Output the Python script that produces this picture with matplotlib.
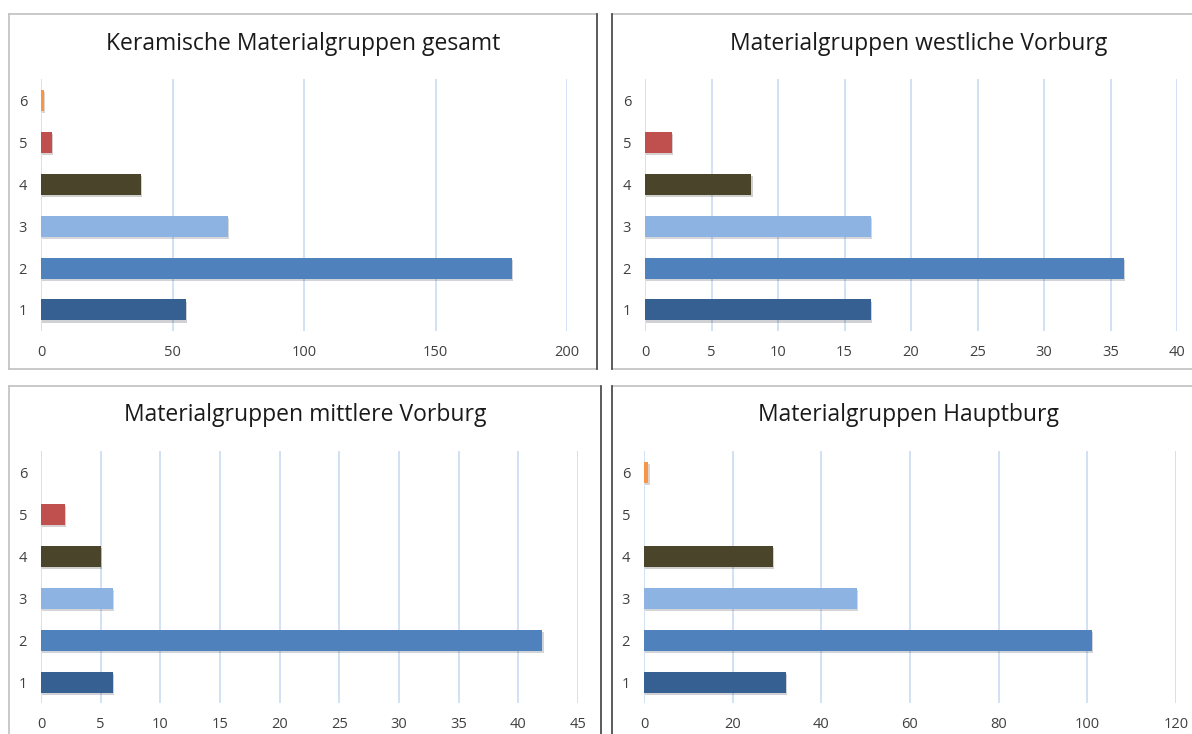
import matplotlib
matplotlib.use('Agg')
import matplotlib.pyplot as plt
import matplotlib.patheffects as pe
from matplotlib.lines import Line2D

categories = ['1', '2', '3', '4', '5', '6']

titles = ['Keramische Materialgruppen gesamt',
          'Materialgruppen westliche Vorburg',
          'Materialgruppen mittlere Vorburg',
          'Materialgruppen Hauptburg']

gesamt = [55, 179, 71, 38, 4, 1]
westliche = [17, 36, 17, 8, 2, 0]
mittlere = [6, 42, 6, 5, 2, 0]
hauptburg = [32, 101, 48, 29, 0, 1]

xticks_gesamt = [0, 50, 100, 150, 200]
xticks_west = [0, 5, 10, 15, 20, 25, 30, 35, 40]
xticks_mitte = [0, 5, 10, 15, 20, 25, 30, 35, 40, 45]
xticks_haupt = [0, 20, 40, 60, 80, 100, 120]

bar_colors = ['#376092', '#4F81BD', '#8DB3E2', '#4A452A', '#C0504D', '#F79646']

W, H = 1192, 734
fig = plt.figure(figsize=(W / 100, H / 100), dpi=100)
plt.rcParams['font.family'] = ['Open Sans', 'DejaVu Sans']


def px_axes(x0, x1, ytop, ybot):
    return fig.add_axes([x0 / W, 1 - ybot / H, (x1 - x0) / W, (ybot - ytop) / H])


def draw_panel(ax, values, xticks, title, title_xy):
    ypos = range(1, len(categories) + 1)
    bars = ax.barh(ypos, values, height=0.5, color=bar_colors, zorder=3)
    for b in bars:
        b.set_path_effects([pe.SimplePatchShadow(offset=(1, -1.5), alpha=0.2), pe.Normal()])
    ax.set_xlim(xticks[0], xticks[-1])
    ax.set_ylim(0.5, 6.5)
    ax.set_xticks(xticks)
    ax.set_yticks(list(ypos))
    ax.set_yticklabels(categories)
    ax.grid(axis='x', color='#C6D9F1', linewidth=1.1, zorder=0)
    ax.grid(axis='y', visible=False)
    for s in ax.spines.values():
        s.set_visible(False)
    ax.tick_params(axis='both', length=0, labelsize=10.5, colors='#404040')
    ax.tick_params(axis='x', pad=10)
    ax.tick_params(axis='y', pad=10)
    fig.text(title_xy[0] / W, 1 - title_xy[1] / H, title, ha='center', va='center',
             fontsize=16.5, color='#1a1a1a')


ax1 = px_axes(41, 567, 79, 331)
draw_panel(ax1, gesamt, xticks_gesamt, titles[0], (303, 44))
ax2 = px_axes(645, 1177, 79, 331)
draw_panel(ax2, westliche, xticks_west, titles[1], (919, 44))
ax3 = px_axes(41, 578, 451, 703)
draw_panel(ax3, mittlere, xticks_mitte, titles[2], (305, 415))
ax4 = px_axes(644, 1176, 451, 703)
draw_panel(ax4, hauptburg, xticks_haupt, titles[3], (908, 415))


# panel frames
def fline(xs, ys, color, lw=1.2):
    fig.add_artist(Line2D([x / W for x in xs], [1 - y / H for y in ys],
                          color=color, linewidth=lw, transform=fig.transFigure))


gray = '#C0C0C0'
dark = '#404040'
fline([9, 597], [14, 14], gray)
fline([9, 9], [14, 369], gray)
fline([9, 597], [369, 369], gray)
fline([597, 597], [14, 369], dark)
fline([612, 1192], [14, 14], gray)
fline([612, 1192], [369, 369], gray)
fline([612, 612], [14, 369], dark)
fline([9, 600], [386, 386], gray)
fline([9, 9], [386, 734], gray)
fline([601, 601], [386, 734], dark)
fline([612, 1192], [386, 386], gray)
fline([612, 612], [386, 734], dark)

fig.savefig('out.png', dpi=100, facecolor='white')
